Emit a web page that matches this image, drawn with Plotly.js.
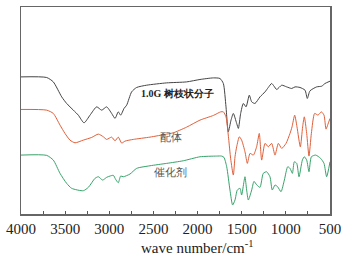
<!DOCTYPE html>
<html><head><meta charset="utf-8">
<script src="https://cdn.plot.ly/plotly-3.0.1.min.js"></script>
<style>html,body{margin:0;padding:0;background:#fff}#c{width:349px;height:261px}</style>
</head><body><div id="c"></div>
<script>
// wavenumbers (cm^-1) and relative transmittance
const wnBlack = [4000,3709,3634,3539,3483,3407,3351,3286,3218,3143,3086,3030,2973,2935,2898,2871,2833,2803,2747,2690,2577,2350,2124,1973,1821,1746,1708,1678,1652,1621,1595,1557,1538,1512,1482,1451,1414,1387,1350,1293,1236,1199,1161,1134,1104,1047,991,934,896,840,783,757,727,651,594,557,500];
const tBlack = [137.3,136.7,132.3,117.3,110.7,104,99,91.3,99,107.3,104,107.3,100.7,95.7,102.3,99,105.7,109,122.3,126.7,129,131.3,132.3,134.7,136.3,135.7,130.7,107.3,82.3,94,100.7,90.7,85.7,100.7,110.7,107.3,119,112.3,110.7,117.3,122.3,126.7,130.7,128,124.7,129,127.3,125.7,127.3,126.7,124,115.7,123.3,127.3,128,130.7,133];

const wnRed = [4000,3709,3634,3558,3502,3445,3388,3294,3199,3124,3067,3030,2973,2935,2898,2860,2822,2728,2539,2350,2275,2124,1973,1821,1738,1708,1678,1648,1625,1595,1576,1557,1527,1501,1463,1436,1406,1368,1331,1301,1274,1236,1199,1161,1123,1085,1047,998,953,930,900,874,836,810,791,764,738,711,674,636,598,568,545,523,500];
const tRed = [104.7,104,100.7,89,80.7,74,71.3,74,76.7,80,77.3,74.7,77,73.3,77,71,73,74.7,77,80,81.3,87,94,98.7,102.3,102.3,97.3,75.3,55.3,39,57.3,67.3,77.3,74,62.3,50.7,60.7,59,67.3,80.7,54,70.7,67.3,70.7,59,70.7,65.7,70.7,80.7,87.3,99,87.3,67.3,87.3,97.3,80.7,58,80.7,100.7,99,102.3,99,85,90,95.7];

const wnGreen = [4000,3709,3634,3558,3483,3426,3294,3237,3162,3124,3075,3030,2992,2954,2928,2898,2871,2841,2766,2690,2539,2350,2162,1973,1784,1727,1701,1670,1633,1603,1576,1550,1519,1501,1474,1463,1444,1425,1387,1361,1331,1293,1256,1218,1180,1154,1123,1093,1055,1017,979,953,926,904,877,851,813,791,764,738,711,662,606,568,538,500];
const tGreen = [59,58.7,54,40.7,30.7,25.7,23.3,26.7,35.7,37.3,34,36.7,38,38.7,34.7,31.3,38,37.3,40,45.7,48.3,50.7,53.3,57.3,58,58,56.7,47.3,24,9,14,24,25.7,19,32.7,37.3,24,14,24,32.7,29.3,26.7,40.7,42.3,37.3,24,29,27.3,22.3,34,47.3,45.7,40.7,52.3,50.7,37.3,54,57.3,54,42.3,57.3,59,55.7,50.7,37.3,52.3];

const tickVals = [4000,3500,3000,2500,2000,1500,1000,500];
const tickText = ['4000','3500','3000','2500','2000','1500','1000','500'];
const labels = ['1.0G 树枝状分子','配体','催化剂'];
const labelWn = [2233,2304,2312];
const labelT = [120.7,77.3,42.3];
const xTitle = 'wave number/cm<sup>-1</sup>';

const serif = 'Liberation Serif';
const cjk = 'Liberation Serif';
const traces = [
  {x:wnBlack,y:tBlack,mode:'lines',line:{color:'#444444',width:1,shape:'spline',smoothing:0.6},hoverinfo:'skip'},
  {x:wnRed,y:tRed,mode:'lines',line:{color:'#e0603a',width:1,shape:'spline',smoothing:0.6},hoverinfo:'skip'},
  {x:wnGreen,y:tGreen,mode:'lines',line:{color:'#37a36a',width:1,shape:'spline',smoothing:0.6},hoverinfo:'skip'}
];
const annotations = labels.map((t,i)=>({
  x:labelWn[i], y:labelT[i], text: i===0 ? '<b>'+t+'</b>' : t, showarrow:false,
  font:{family:cjk,size:i===0?10:11,color:i===0?'#222':'#555'}, xanchor:'center', yanchor:'middle'
}));
annotations.push({
  xref:'paper', yref:'paper', x:0.57, y:-0.105, xanchor:'center', yanchor:'top',
  text:xTitle, showarrow:false, font:{family:serif,size:15,color:'#222'}
});
const layout = {
  width:349,height:261,
  font:{family:serif},
  margin:{l:21,r:19,t:7,b:47},
  paper_bgcolor:'#fff',plot_bgcolor:'#fff',
  showlegend:false,
  xaxis:{
    range:[4000,500],
    tickvals:tickVals,ticktext:tickText,
    ticks:'inside',ticklen:3,tickcolor:'#555',tickwidth:1,
    showgrid:false,zeroline:false,
    showline:true,linecolor:'#666',linewidth:1.5,mirror:true,
    tickfont:{family:serif,size:15,color:'#222'},
    minor:{dtick:250,ticks:'inside',ticklen:3,tickcolor:'#555',tickwidth:1,showgrid:false}
  },
  yaxis:{
    range:[0,207.3],showticklabels:false,ticks:'',showgrid:false,zeroline:false,
    showline:true,linecolor:'#666',linewidth:1.5,mirror:true
  },
  annotations:annotations
};
Plotly.newPlot('c',traces,layout,{staticPlot:true});
</script></body></html>
